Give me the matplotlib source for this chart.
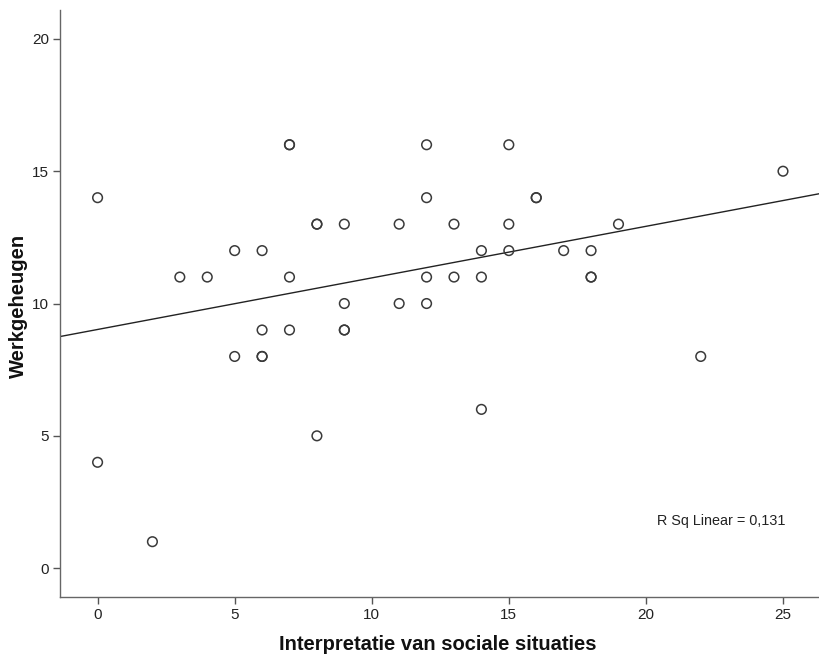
import numpy as np
import matplotlib.pyplot as plt
from matplotlib import rcParams
rcParams['font.family'] = 'sans-serif'
rcParams['font.sans-serif'] = ['Liberation Sans', 'DejaVu Sans']

# interpretatie van sociale situaties (x) vs werkgeheugen (y)
interpretatie = [0, 0, 2, 3, 4, 5, 5, 6, 6, 6, 6, 7, 7, 7, 7, 8, 8, 8, 9, 9, 9, 9,
                 11, 11, 12, 12, 12, 12, 13, 13, 14, 14, 14, 15, 15, 15, 16, 16,
                 17, 18, 18, 18, 19, 22, 25]
werkgeheugen = [14, 4, 1, 11, 11, 12, 8, 12, 9, 8, 8, 16, 16, 11, 9, 13, 13, 5, 13, 10, 9, 9,
                13, 10, 16, 14, 11, 10, 13, 11, 12, 11, 6, 16, 13, 12, 14, 14,
                12, 12, 11, 11, 13, 8, 15]
xticks = [0, 5, 10, 15, 20, 25]
yticks = [0, 5, 10, 15, 20]

x = np.array(interpretatie)
y = np.array(werkgeheugen)
slope, intercept = np.polyfit(x, y, 1)

fig = plt.figure(figsize=(8.2, 6.62), dpi=100)
ax = fig.add_axes([0.0732, 0.0982, 0.9268, 0.887])
ax.set_xlim(-1.37, 26.35)
ax.set_ylim(-1.09, 21.1)

ax.scatter(x, y, s=48, facecolors='none', edgecolors='#3a3a3a', linewidths=1.1, zorder=3)
xl = np.array(ax.get_xlim())
ax.plot(xl, intercept + slope * xl, color='#222222', linewidth=1.0)

ax.text(22.75, 1.78, 'R Sq Linear = 0,131', fontsize=10.4, ha='center', va='center', color='#222222')

for s in ['top', 'right']:
    ax.spines[s].set_visible(False)
for s in ['left', 'bottom']:
    ax.spines[s].set_color('#666666')
    ax.spines[s].set_linewidth(1.0)
ax.set_xticks(xticks)
ax.set_yticks(yticks)
ax.tick_params(axis='both', direction='out', length=5, width=1, color='#555555',
               labelsize=11, labelcolor='#222222', pad=3)

fig.text(0.534, 0.012, 'Interpretatie van sociale situaties', fontsize=14.5, fontweight='bold',
         ha='center', va='bottom', color='#111111')
fig.text(0.022, 0.538, 'Werkgeheugen', fontsize=14.5, fontweight='bold', rotation=90,
         ha='center', va='center', color='#111111')

fig.savefig('out.png', dpi=100)
